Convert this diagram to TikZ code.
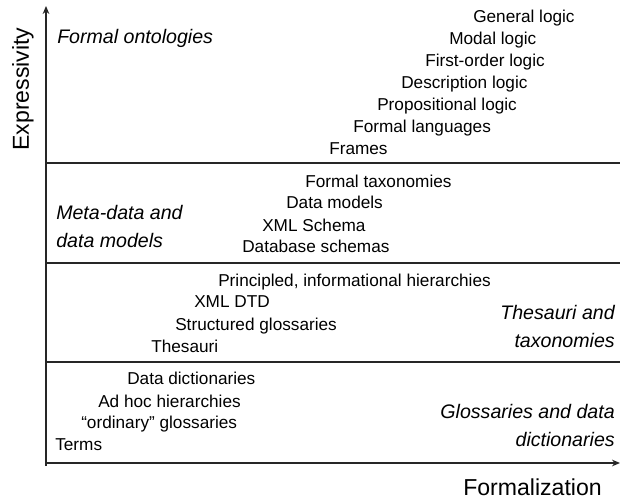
\documentclass[tikz,border=0pt]{standalone}
\usepackage{fontspec}
\setmainfont{Liberation Sans}
\usetikzlibrary{arrows.meta}

\begin{document}
\begin{tikzpicture}[x=0.75pt,y=-0.75pt,>={Stealth[length=6pt,width=5pt]},
    item/.style={anchor=base west,inner sep=0pt,font=\fontsize{12.9pt}{15pt}\selectfont},
    band/.style={inner sep=0pt,font=\fontsize{14.7pt}{21pt}\selectfont\itshape},
    axistitle/.style={inner sep=0pt,font=\fontsize{17.3pt}{20pt}\selectfont},
    sep/.style={line width=1.6pt,black!85},
    axis/.style={line width=0.9pt,black!85}]
    \useasboundingbox (0,0) rectangle (620,500);
    % ---- axes ----
    \coordinate (origin) at (46,463);
    \coordinate (ytip) at (46,6);
    \coordinate (xtip) at (620,463);
    \draw[axis,->] (46,466) -- (ytip);
    \draw[axis,->] (origin) -- (xtip);
    \node[axistitle,rotate=90] (expr) at (23,89) {Expressivity};
    \node[axistitle,anchor=base] (form) at (532.5,495) {Formalization};
    % ---- band limits ----
    \coordinate (l1) at (46,163);  \coordinate (r1) at (620,163);
    \coordinate (l2) at (46,263);  \coordinate (r2) at (620,263);
    \coordinate (l3) at (46,362);  \coordinate (r3) at (620,362);
    \draw[sep] (l1) -- (r1);
    \draw[sep] (l2) -- (r2);
    \draw[sep] (l3) -- (r3);
    % ---- formal ontologies ----
    \node[band,anchor=base west] (ontol) at (57,43) {Formal ontologies};
    \node[item] (genl)  at (473,22)  {General logic};
    \node[item] (modal) at (449,44)  {Modal logic};
    \node[item] (fol)   at (425,66)  {First-order logic};
    \node[item] (dl)    at (401,88)  {Description logic};
    \node[item] (prop)  at (377,110) {Propositional logic};
    \node[item] (flang) at (353,132) {Formal languages};
    \node[item] (frame) at (329,154) {Frames};
    % ---- meta-data and data models ----
    \node[band,anchor=west,align=left] (meta) at (56,226) {Meta-data and\\data models};
    \node[item] (ftax)  at (305,187) {Formal taxonomies};
    \node[item] (dmod)  at (286,208) {Data models};
    \node[item] (xsd)   at (262,231) {XML Schema};
    \node[item] (dbs)   at (242,252) {Database schemas};
    % ---- thesauri and taxonomies ----
    \node[band,anchor=east,align=right] (thes) at (615,326) {Thesauri and\\taxonomies};
    \node[item] (princ) at (218,286) {Principled, informational hierarchies};
    \node[item] (dtd)   at (194,307) {XML DTD};
    \node[item] (sglos) at (175,330) {Structured glossaries};
    \node[item] (thsr)  at (151,352) {Thesauri};
    % ---- glossaries and data dictionaries ----
    \node[band,anchor=east,align=right] (gloss) at (615,425) {Glossaries and data\\dictionaries};
    \node[item] (ddict) at (127,384) {Data dictionaries};
    \node[item] (adhoc) at (98,407)  {Ad hoc hierarchies};
    \node[item] (oglos) at (81,428)  {“ordinary” glossaries};
    \node[item] (terms) at (55,450)  {Terms};
\end{tikzpicture}
\end{document}
